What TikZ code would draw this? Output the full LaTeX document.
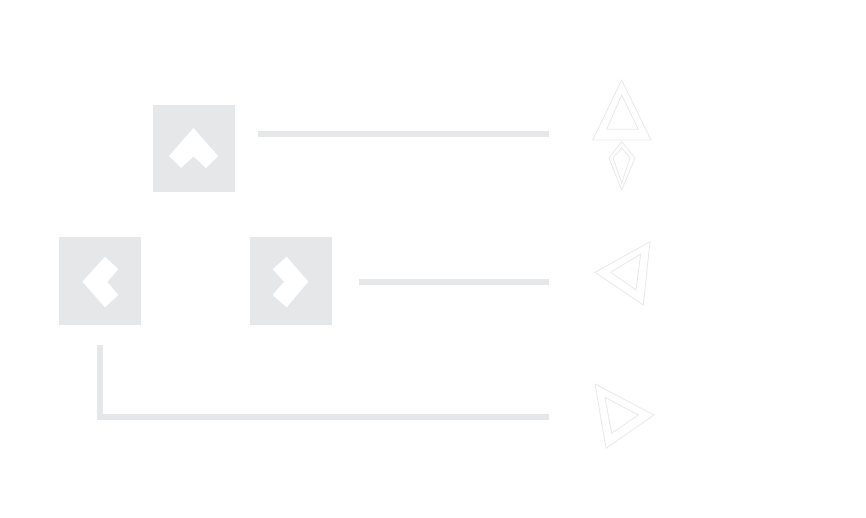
\documentclass[tikz,border=0pt]{standalone}
\usepackage{tikz}
\usetikzlibrary{calc}

\definecolor{keygray}{RGB}{230,231,232}
\definecolor{ghost}{RGB}{232,232,232}

\tikzset{every picture/.style={line width=0.75pt}}
\tikzset{
  keybox/.style={fill=keygray,draw=none,minimum width=61.5pt,minimum height=65.5pt,inner sep=0pt},
  wire/.style={draw=keygray,line width=4.5pt,line join=miter},
  glyph/.style={fill=white,draw=none},
  ghostline/.style={draw=ghost,line width=0.6pt,line join=miter}
}

\begin{document}
\begin{tikzpicture}[x=0.75pt,y=0.75pt,yscale=-1,xscale=1]
		\useasboundingbox (0,0) rectangle (866,517);

		%Keys
		\node[keybox] (up) at (193.5,148.5) {};
		\node[keybox] (left) at (100,281) {};
		\node[keybox] (right) at (291,281) {};

		%Shape: up chevron
		\fill[glyph] ($(up)+(0,-20.5)$) -- ++(24.5,28) -- ++(-12,12) -- ++(-12.5,-11.5) -- ++(-12.5,11.5) -- ++(-12,-12) -- cycle;
		%Shape: left chevron
		\fill[glyph] ($(left)+(-17.7,0.7)$) -- ++(22.7,-25) -- ++(13.3,12.6) -- ++(-11,12.4) -- ++(11,13.3) -- ++(-13.3,12.3) -- cycle;
		%Shape: right chevron
		\fill[glyph] ($(right)+(17.3,0.7)$) -- ++(-21.6,-25) -- ++(-14,12.6) -- ++(11.3,12.4) -- ++(-11.3,13.3) -- ++(14,12.3) -- cycle;

		%Line ends
		\coordinate (upEnd) at (549,134);
		\coordinate (rightEnd) at (549,282);
		\coordinate (leftEnd) at (549,417);
		\coordinate (leftBend) at (100,417);

		%Straight Lines
		\draw[wire] ($(up.east)+(23,-14.5)$) -- (upEnd);
		\draw[wire] ($(right.east)+(26,1)$) -- (rightEnd);
		\draw[wire] ($(left.south)+(0,20)$) -- (leftBend) -- (leftEnd);

		%Shape: up triangle
		\draw[ghostline] (621.7,80) -- (651,140) -- (592.7,140) -- cycle;
		\draw[ghostline] (621.7,95) -- (638.3,129.3) -- (606.7,129.3) -- cycle;
		%Shape: down diamond
		\draw[ghostline] (621.7,141.7) -- (635,158) -- (621.7,190) -- (609,158) -- cycle;
		\draw[ghostline] (621.7,148) -- (630,158) -- (621.7,183) -- (613,158) -- cycle;

		%Shape: left triangle
		\draw[ghostline] (595,272.3) -- (650,241.7) -- (643.3,305) -- cycle;
		\draw[ghostline] (610.7,272.3) -- (640.7,254) -- (636,290) -- cycle;

		%Shape: right triangle
		\draw[ghostline] (595,384) -- (654,415) -- (606,448.3) -- cycle;
		\draw[ghostline] (605,397.3) -- (638.3,415) -- (611.7,433.3) -- cycle;
	\end{tikzpicture}
\end{document}
